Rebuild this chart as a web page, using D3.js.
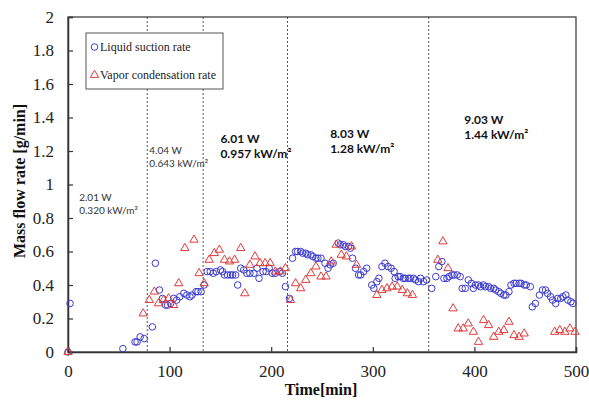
<!DOCTYPE html>
<html>
<head>
<meta charset="utf-8">
<script src="https://cdn.jsdelivr.net/npm/d3@7"></script>
<style>
    body { margin: 0; background: #fff; }
    svg { display: block; }
</style>
</head>
<body>
<svg id="chart"></svg>
<script>
// liquid suction rate (blue circles)
const suctionTime = [0, 2, 54, 66, 68, 71, 75, 83, 86, 90, 93, 96, 98, 101, 104, 107, 110, 114, 117, 120, 122, 126, 128, 131,
    134, 137, 140, 143, 146, 150, 152, 154, 157, 160, 162, 165, 167, 170, 173, 176, 179, 183, 186, 188, 192, 195, 198, 201,
    204, 208, 211, 214, 218, 221, 224, 226, 229, 231, 234, 236, 239, 241, 244, 246, 249, 253, 256, 258, 261, 266, 268, 271,
    273, 276, 278, 280, 283, 286, 288, 291, 294, 299, 301, 304, 306, 309, 312, 315, 318, 321, 322, 325, 327, 330, 332, 335,
    337, 340, 342, 345, 347, 350, 353, 358, 362, 365, 368, 370, 373, 375, 378, 380, 383, 386, 388, 391, 394, 397, 399, 401,
    404, 406, 409, 411, 414, 416, 419, 421, 424, 426, 429, 431, 434, 436, 439, 441, 444, 446, 449, 451, 455, 457, 460, 464,
    467, 470, 472, 475, 477, 480, 482, 485, 487, 490, 492, 495, 497];
const suctionRate = [0, 0.29, 0.02, 0.06, 0.06, 0.09, 0.08, 0.15, 0.53, 0.37, 0.32, 0.28, 0.28, 0.29, 0.32, 0.31, 0.33, 0.35, 0.34, 0.33, 0.34, 0.36, 0.36, 0.36,
    0.40, 0.48, 0.48, 0.47, 0.48, 0.49, 0.48, 0.46, 0.46, 0.46, 0.46, 0.46, 0.40, 0.50, 0.49, 0.47, 0.47, 0.47, 0.50, 0.44, 0.48, 0.48, 0.50, 0.47,
    0.47, 0.48, 0.47, 0.39, 0.32, 0.56, 0.60, 0.60, 0.60, 0.59, 0.59, 0.58, 0.58, 0.57, 0.56, 0.56, 0.56, 0.53, 0.50, 0.52, 0.53, 0.65, 0.64, 0.64,
    0.63, 0.63, 0.62, 0.56, 0.50, 0.46, 0.46, 0.48, 0.50, 0.40, 0.38, 0.42, 0.44, 0.51, 0.53, 0.51, 0.50, 0.48, 0.44, 0.45, 0.45, 0.44, 0.44, 0.44,
    0.44, 0.44, 0.43, 0.42, 0.44, 0.42, 0.43, 0.38, 0.45, 0.51, 0.54, 0.44, 0.44, 0.45, 0.46, 0.46, 0.46, 0.45, 0.38, 0.38, 0.43, 0.41, 0.38, 0.40,
    0.40, 0.39, 0.40, 0.39, 0.39, 0.38, 0.38, 0.37, 0.36, 0.35, 0.34, 0.34, 0.36, 0.40, 0.41, 0.41, 0.41, 0.41, 0.40, 0.40, 0.39, 0.27, 0.29, 0.34,
    0.37, 0.37, 0.35, 0.33, 0.31, 0.29, 0.32, 0.32, 0.33, 0.34, 0.31, 0.30, 0.29];

// vapor condensation rate (red triangles)
const condTime = [0, 74, 80, 85, 89, 94, 99, 104, 109, 115, 124, 129, 134, 139, 144, 149, 154, 159, 164, 170, 174, 179, 184, 189,
    194, 199, 204, 209, 214, 219, 224, 229, 234, 239, 244, 249, 254, 259, 264, 269, 274, 279, 284, 304, 309, 314, 319, 324,
    329, 334, 339, 364, 369, 374, 379, 384, 389, 394, 399, 404, 409, 414, 419, 424, 429, 434, 439, 444, 449, 479, 484, 489,
    494, 499];
const condRate = [0, 0.23, 0.31, 0.36, 0.29, 0.31, 0.32, 0.28, 0.41, 0.62, 0.67, 0.47, 0.41, 0.55, 0.59, 0.61, 0.55, 0.54, 0.55, 0.62, 0.35, 0.52, 0.57, 0.53,
    0.53, 0.53, 0.48, 0.48, 0.50, 0.31, 0.41, 0.38, 0.43, 0.47, 0.51, 0.45, 0.45, 0.54, 0.64, 0.58, 0.57, 0.63, 0.52, 0.34, 0.37, 0.38, 0.39, 0.39,
    0.37, 0.35, 0.34, 0.55, 0.66, 0.50, 0.26, 0.14, 0.14, 0.17, 0.12, 0.06, 0.19, 0.16, 0.09, 0.12, 0.13, 0.18, 0.10, 0.09, 0.11, 0.12, 0.13, 0.12,
    0.14, 0.12];

// heat load steps
const stepLines = [78, 133, 216, 355];
const stepPower = ['2.01 W', '4.04 W', '6.01 W', '8.03 W', '9.03 W'];
const stepFlux = ['0.320 kW/m²', '0.643 kW/m²', '0.957 kW/m²', '1.28 kW/m²', '1.44 kW/m²'];
const stepLabelTime = [11, 80, 150, 258, 390];
const stepLabelValue = [0.90, 1.18, 1.25, 1.28, 1.36];

const xTicks = [0, 100, 200, 300, 400, 500];
const yTicks = [0, 0.2, 0.4, 0.6, 0.8, 1, 1.2, 1.4, 1.6, 1.8, 2];

function drawChart() {
    var svg = d3.select('#chart');
    const width = 589;
    const height = 400;
    svg.attr('width', width).attr('height', height);

    const margin = { left: 68, right: 13, top: 17, bottom: 48 };
    const serif = '"Liberation Serif", "Times New Roman", serif';
    const sans = 'Lato, "Open Sans", sans-serif';
    const blue = '#3a3ad0';
    const red = '#e03a3a';

    const x = d3.scaleLinear().domain([0, 500]).range([margin.left, width - margin.right]);
    const y = d3.scaleLinear().domain([0, 2]).range([height - margin.bottom, margin.top]);

    // dotted step lines
    svg.selectAll('line.step')
        .data(stepLines)
        .enter()
        .append('line')
        .attr('class', 'step')
        .attr('x1', d => x(d)).attr('x2', d => x(d))
        .attr('y1', y(2)).attr('y2', y(0))
        .attr('stroke', '#555')
        .attr('stroke-width', 1)
        .attr('stroke-dasharray', '2,2');

    // frame
    svg.append('rect')
        .attr('x', x(0)).attr('y', y(2))
        .attr('width', x(500) - x(0))
        .attr('height', y(0) - y(2))
        .attr('fill', 'none')
        .attr('stroke', '#333')
        .attr('stroke-width', 1.2);

    var xAxis = svg.append('g')
        .attr('transform', 'translate(0,' + y(0) + ')')
        .call(d3.axisBottom(x).tickValues(xTicks).tickSize(-5).tickPadding(13).tickFormat(d3.format('d')));
    var yAxis = svg.append('g')
        .attr('transform', 'translate(' + x(0) + ',0)')
        .call(d3.axisLeft(y).tickValues(yTicks).tickSize(-5).tickPadding(14).tickFormat(d => String(d)));

    [xAxis, yAxis].forEach(function (g) {
        g.select('.domain').attr('stroke', '#333').attr('stroke-width', 1.5);
        g.selectAll('.tick line').attr('stroke', '#333').attr('stroke-width', 1.2);
        g.selectAll('.tick text')
            .attr('fill', '#222')
            .style('font-family', serif)
            .style('font-size', '17px');
    });

    // axis titles
    svg.append('text')
        .attr('x', 321).attr('y', 395)
        .attr('text-anchor', 'middle')
        .style('font-family', serif)
        .style('font-weight', 'bold')
        .style('font-size', '16px')
        .attr('fill', '#111')
        .text('Time[min]');

    svg.append('text')
        .attr('transform', 'translate(25,181) rotate(-90)')
        .attr('text-anchor', 'middle')
        .style('font-family', serif)
        .style('font-weight', 'bold')
        .style('font-size', '16px')
        .attr('fill', '#111')
        .text('Mass flow rate [g/min]');

    // step annotations
    var notes = stepPower.map(function (p, i) {
        return { p: p, f: stepFlux[i], t: stepLabelTime[i], v: stepLabelValue[i], bold: i >= 2 };
    });
    var note = svg.selectAll('g.note')
        .data(notes)
        .enter()
        .append('g')
        .attr('class', 'note')
        .attr('transform', d => 'translate(' + x(d.t) + ',' + y(d.v) + ')')
        .style('font-family', sans)
        .style('font-size', d => d.bold ? '12px' : '10px')
        .style('font-weight', d => d.bold ? 'bold' : 'normal')
        .attr('fill', d => d.bold ? '#111' : '#333');
    note.append('text').attr('y', 0).text(d => d.p);
    note.append('text').attr('y', d => d.bold ? 15 : 13).text(d => d.f);

    // data
    var blueData = suctionTime.map((t, i) => ({ t: t, v: suctionRate[i] }));
    var redData = condTime.map((t, i) => ({ t: t, v: condRate[i] }));

    svg.append('g')
        .selectAll('circle')
        .data(blueData)
        .enter()
        .append('circle')
        .attr('cx', d => x(d.t))
        .attr('cy', d => y(d.v))
        .attr('r', 3.3)
        .attr('fill', 'none')
        .attr('stroke', blue)
        .attr('stroke-width', 1);

    var tri = d3.symbol().type(d3.symbolTriangle).size(30);
    svg.append('g')
        .selectAll('path')
        .data(redData)
        .enter()
        .append('path')
        .attr('d', tri)
        .attr('transform', d => 'translate(' + x(d.t) + ',' + y(d.v) + ')')
        .attr('fill', 'none')
        .attr('stroke', red)
        .attr('stroke-width', 1);

    // legend
    var legend = svg.append('g').attr('transform', 'translate(86,33)');
    legend.append('rect')
        .attr('width', 137).attr('height', 56)
        .attr('fill', '#fff')
        .attr('stroke', '#555')
        .attr('stroke-width', 1);
    legend.append('circle')
        .attr('cx', 8.5).attr('cy', 14).attr('r', 3.3)
        .attr('fill', 'none').attr('stroke', blue);
    legend.append('path')
        .attr('d', tri)
        .attr('transform', 'translate(8.5,42)')
        .attr('fill', 'none').attr('stroke', red);
    legend.selectAll('text')
        .data(['Liquid suction rate', 'Vapor condensation rate'])
        .enter()
        .append('text')
        .attr('x', 14)
        .attr('y', (d, i) => 18 + i * 28)
        .style('font-family', serif)
        .style('font-size', '12px')
        .attr('fill', '#222')
        .text(d => d);
}

drawChart();
</script>
</body>
</html>
